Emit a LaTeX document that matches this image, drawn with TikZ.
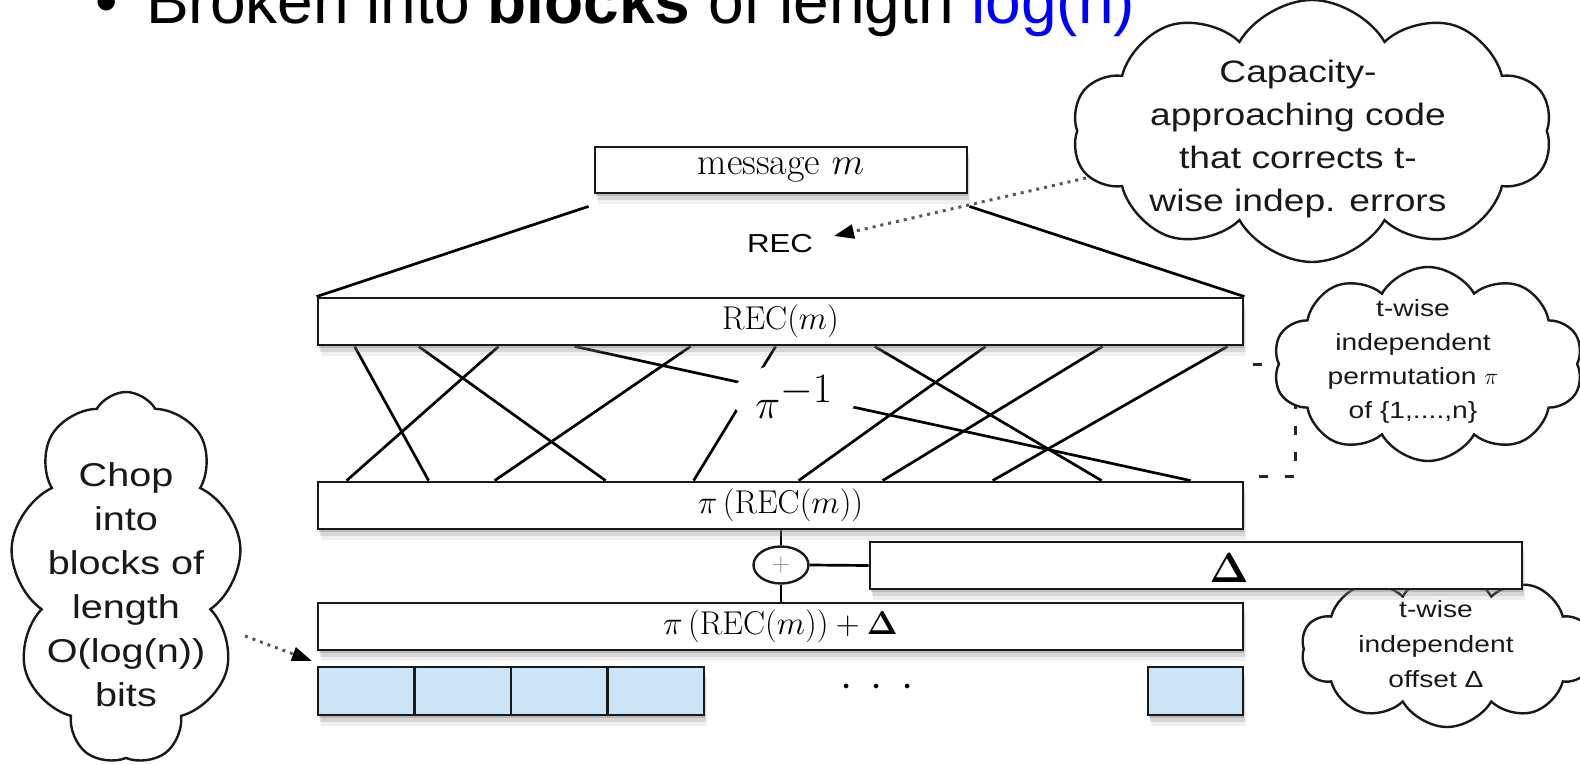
\RequirePackage{fix-cm}
\documentclass[tikz,border=0pt]{standalone}
\usepackage[no-math]{fontspec}
\newfontfamily\titlefont{Liberation Sans}
\newfontfamily\sfs[FakeStretch=1.2]{Liberation Sans}
\usetikzlibrary{shapes.symbols,shapes.geometric,shadows,arrows.meta,calc,backgrounds}
\newcommand\setfs[2]{\fontsize{#1}{#2}\selectfont}
\definecolor{blockblue}{RGB}{205,228,247}
\begin{document}
\begin{tikzpicture}[x=1pt,y=-1pt,
  box/.style={draw=black!90, line width=2.8pt, fill=white, inner sep=0pt,
    drop shadow={shadow xshift=1pt,shadow yshift=-3pt,opacity=0.35},
    drop shadow={shadow xshift=2pt,shadow yshift=-7pt,opacity=0.22},
    drop shadow={shadow xshift=3pt,shadow yshift=-11pt,opacity=0.12}},
  blk/.style={box, fill=blockblue, minimum height=48pt},
  perm/.style={line width=2.7pt, draw=black},
  cloudsh/.style={cloud, draw=black!90, line width=2.4pt, fill=white, cloud ignores aspect, inner sep=0pt, cloud puff arc=120},
  ctext/.style={align=center, inner sep=0pt, text=black!90},
  dotarrow/.style={line width=3pt, black!65, dash pattern=on 3pt off 5pt,
    -{Triangle[length=20pt,width=14pt,black]}}
]
\useasboundingbox (0,0) rectangle (1580,765);

% title
\node[anchor=base west, inner sep=0pt, font=\titlefont\setfs{64}{64}] (bul) at (95,24) {•};
\node[anchor=base west, inner sep=0pt, font=\titlefont\setfs{64}{64}] (title) at (146,24)
  {Broken into \textbf{blocks} of length \textcolor[RGB]{0,0,255}{log(n)}};

% clouds
\node[cloudsh, cloud puffs=10, minimum width=480pt, minimum height=262pt] (c1) at (1312,131) {};
\node[ctext, font=\sfs\setfs{31}{42.7}] (c1t) at (1298,139)
  {Capacity-\\approaching code\\that corrects t-\\wise indep. errors};

\node[cloudsh, cloud puffs=10, minimum width=310pt, minimum height=194pt] (c2) at (1428,364) {};
\node[ctext, font=\sfs\setfs{23.5}{34}] (c2t) at (1413,361)
  {t-wise\\independent\\permutation $\pi$\\of \{1,....,n\}};

\node[cloudsh, cloud puffs=9, minimum width=232pt, minimum height=372pt] (c3) at (126,578) {};
\node[ctext, font=\sfs\setfs{33}{44}] (c3t) at (126,585)
  {Chop\\into\\blocks of\\length\\O(log(n))\\bits};

\node[cloudsh, cloud puffs=10, minimum width=292pt, minimum height=156pt] (c4) at (1447,649) {};
\node[ctext, font=\sfs\setfs{23.5}{35}] (c4t) at (1436,644)
  {t-wise\\independent\\offset Δ};

% pi inverse label
\node[ellipse, fill=white, minimum width=124pt, minimum height=68pt, inner sep=0pt] (pinv) at (794,397)
  {\setfs{42}{42}$\pi^{\textstyle -1}$};

% boxes
\node[box, minimum width=372pt, minimum height=46pt] (msg) at (781,170) {\setfs{38}{38}message $m$};
\node[box, minimum width=925pt, minimum height=47pt] (rec) at (780.5,321.5) {\setfs{33}{33}$\mathrm{REC}(m)$};
\node[box, minimum width=925pt, minimum height=47pt] (pi) at (780.5,505.5) {\setfs{33}{33}$\pi\left(\mathrm{REC}(m)\right)$};
\node[box, minimum width=652pt, minimum height=47pt] (delta) at (1196,565.5) {};
\node[inner sep=0pt] (dl) at (1229,568) {\setfs{42}{42}$\mathbf{\Delta}$};
\node[box, minimum width=925pt, minimum height=47pt] (low) at (780.5,626.5) {\setfs{33}{33}$\pi\left(\mathrm{REC}(m)\right)+\mathbf{\Delta}$};

\foreach \i in {1,...,4}
  \node[blk, minimum width=96.5pt] (b\i) at ({318+96.5*(\i-0.5)},691) {};
\node[blk, minimum width=95pt] (b5) at (1195.5,691) {};
\node[inner sep=0pt] (dots) at (877,688) {\setfs{44}{44}$\cdot$\hspace{18pt}$\cdot$\hspace{18pt}$\cdot$};

% oplus
\node[ellipse, draw=black!90, line width=2.4pt, fill=white, minimum width=55pt, minimum height=37pt, inner sep=0pt] (op) at (781,565)
  {\color{black!45}\setfs{26}{26}+};

\node[anchor=base, inner sep=0pt, font=\sfs\setfs{26}{26}] (reclbl) at (780,252) {REC};

% connectors behind
\begin{scope}[on background layer]
  \draw[line width=2.8pt, black!85, dash pattern=on 9pt off 17pt]
    ([xshift=9pt,yshift=-18pt]rec.south east) -- ++(42,0) |- ([xshift=9pt,yshift=4pt]pi.north east);
  \draw[perm] ([xshift=-5pt,yshift=-12pt]msg.south west) -- (rec.north west);
  \draw[perm] ([xshift=1pt,yshift=-12pt]msg.south east) -- (rec.north east);
  \foreach \t/\b in {38/112, 102/289, 182/30, 258/874, 374/178, 459/377, 558/785, 669/482, 786/566, 911/676}
    \draw[perm] ([xshift=\t pt]rec.south west) -- ([xshift=\b pt]pi.north west);
  \draw[perm] (op.north |- pi.south) -- (op.north);
  \draw[perm] (op.south) -- (op.south |- low.north);
  \draw[perm] (op.east) -- (delta.west);
\end{scope}

% dotted arrows
\coordinate (a1s) at (1086,178);
\coordinate (a1e) at (834,236);
\draw[dotarrow] (a1s) -- (a1e);
\coordinate (a2s) at (245,636);
\coordinate (a2e) at (312,661);
\draw[dotarrow] (a2s) -- (a2e);
\end{tikzpicture}
\end{document}
